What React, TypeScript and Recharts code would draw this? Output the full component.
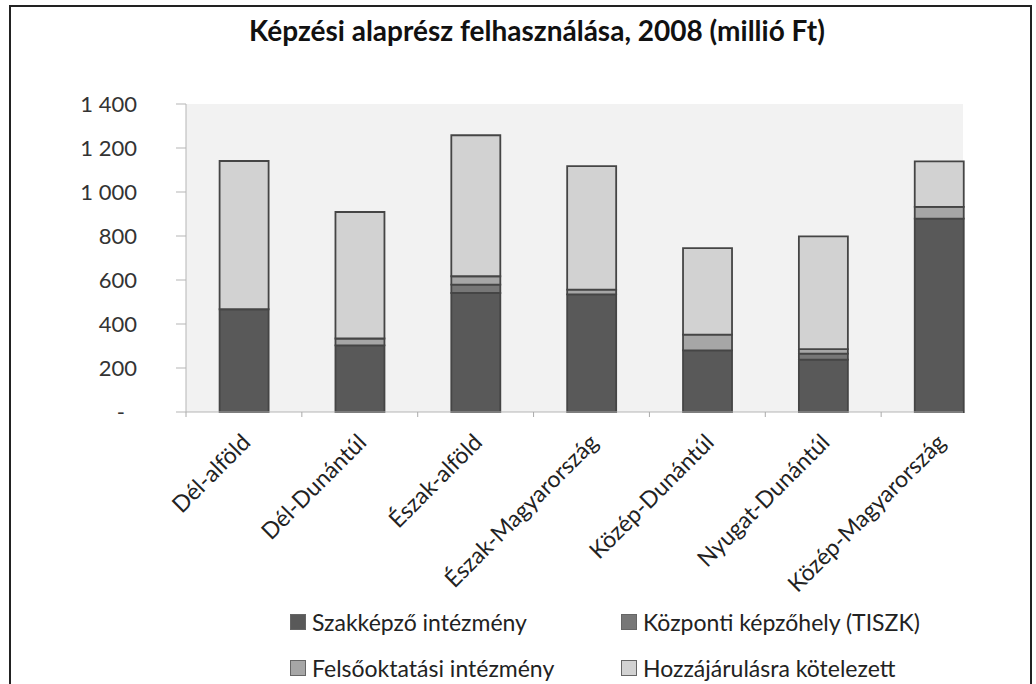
import React from 'react';
import { BarChart, Bar, XAxis, YAxis, CartesianGrid } from 'recharts';

// Képzési alaprész felhasználása régiónként, 2008 (millió Ft)
const regions = [
  'Dél-alföld',
  'Dél-Dunántúl',
  'Észak-alföld',
  'Észak-Magyarország',
  'Közép-Dunántúl',
  'Nyugat-Dunántúl',
  'Közép-Magyarország',
];
const szakkepzo = [467, 303, 541, 535, 280, 238, 879];
const kozponti = [0, 0, 38, 0, 0, 27, 0];
const felsooktatasi = [0, 31, 38, 21, 72, 21, 53];
const hozzajarulas = [674, 575, 641, 562, 393, 512, 207];
const yTicks = [0, 200, 400, 600, 800, 1000, 1200, 1400];

const series = [
  { key: 'szakkepzo', name: 'Szakképző intézmény', color: '#595959' },
  { key: 'kozponti', name: 'Központi képzőhely (TISZK)', color: '#777777' },
  { key: 'felso', name: 'Felsőoktatási intézmény', color: '#a6a6a6' },
  { key: 'hozzajarulas', name: 'Hozzájárulásra kötelezett', color: '#d2d2d2' },
];

const data = regions.map((region, i) => ({
  region,
  szakkepzo: szakkepzo[i],
  kozponti: kozponti[i],
  felso: felsooktatasi[i],
  hozzajarulas: hozzajarulas[i],
}));

const FONT = 'Lato, "Open Sans", sans-serif';
const PLOT_LEFT = 186;
const PLOT_RIGHT = 963;
const OVERHANG = 34; // the last category runs past the grey plot area
const SLOT = (PLOT_RIGHT + OVERHANG - PLOT_LEFT) / regions.length;

const formatNum = (v: number) => String(v).replace(/\B(?=(\d{3})+(?!\d))/g, ' ');

function RegionTick({ x, y, payload }: any) {
  const bx = x - SLOT / 2;
  const tx = x + 8;
  const ty = y + 32;
  return (
    <g>
      <line x1={bx} x2={bx} y1={y} y2={y + 5} stroke="#aaa" />
      <text
        x={tx}
        y={ty}
        transform={`rotate(-45, ${tx}, ${ty})`}
        textAnchor="end"
        fontSize={23}
        fontFamily={FONT}
        fill="#222"
      >
        {payload.value}
      </text>
    </g>
  );
}

function ValueTick({ x, y, payload }: any) {
  const zero = payload.value === 0;
  return (
    <text
      x={zero ? x - 12 : x}
      y={y}
      dy={8}
      textAnchor="end"
      fontSize={22}
      fontFamily={FONT}
      fill="#333"
    >
      {zero ? '-' : formatNum(payload.value)}
    </text>
  );
}

export default function App() {
  return (
    <div style={{ position: 'absolute', left: 0, top: 0, width: 1036, height: 684, background: '#fff', overflow: 'hidden', fontFamily: FONT }}>
      <div
        style={{
          position: 'absolute',
          left: 9,
          top: 5,
          width: 1019,
          height: 700,
          border: '2px solid #222',
        }}
      />
      <div
        style={{
          position: 'absolute',
          left: 0,
          top: 13,
          width: 1074,
          textAlign: 'center',
          fontSize: 28,
          fontWeight: 700,
          color: '#111',
        }}
      >
        Képzési alaprész felhasználása, 2008 (millió Ft)
      </div>
      <div style={{ position: 'absolute', left: 0, top: 0 }}>
        <BarChart
          width={1036}
          height={684}
          data={data}
          margin={{ top: 104, right: 1036 - PLOT_RIGHT, bottom: 72, left: PLOT_LEFT - 60 }}
          barCategoryGap="29%"
        >
          <CartesianGrid horizontal={false} vertical={false} fill="#f2f2f2" />
          <XAxis
            dataKey="region"
            interval={0}
            height={200}
            tickSize={0}
            tickMargin={0}
            tickLine={false}
            axisLine={{ stroke: '#b5b5b5' }}
            padding={{ left: 0, right: -OVERHANG }}
            tick={<RegionTick />}
          />
          <YAxis
            width={60}
            domain={[0, 1400]}
            ticks={yTicks}
            interval={0}
            tickSize={10}
            tickMargin={39}
            axisLine={{ stroke: '#b5b5b5' }}
            tickLine={{ stroke: '#b5b5b5' }}
            tick={<ValueTick />}
          />
          {series.map((s) => (
            <Bar
              key={s.key}
              dataKey={s.key}
              name={s.name}
              stackId="a"
              fill={s.color}
              stroke="#454545"
              strokeWidth={1.8}
              isAnimationActive={false}
            />
          ))}
        </BarChart>
      </div>
      <div
        style={{
          position: 'absolute',
          left: 290,
          top: 608,
          display: 'grid',
          gridTemplateColumns: '331px 331px',
          rowGap: 18,
          fontSize: 23,
          color: '#222',
        }}
      >
        {series.map((s) => (
          <div key={s.key} style={{ display: 'flex', alignItems: 'center', height: 28 }}>
            <span
              style={{
                display: 'inline-block',
                width: 14,
                height: 14,
                background: s.color,
                border: '1px solid #666',
                marginRight: 6,
              }}
            />
            {s.name}
          </div>
        ))}
      </div>
    </div>
  );
}
